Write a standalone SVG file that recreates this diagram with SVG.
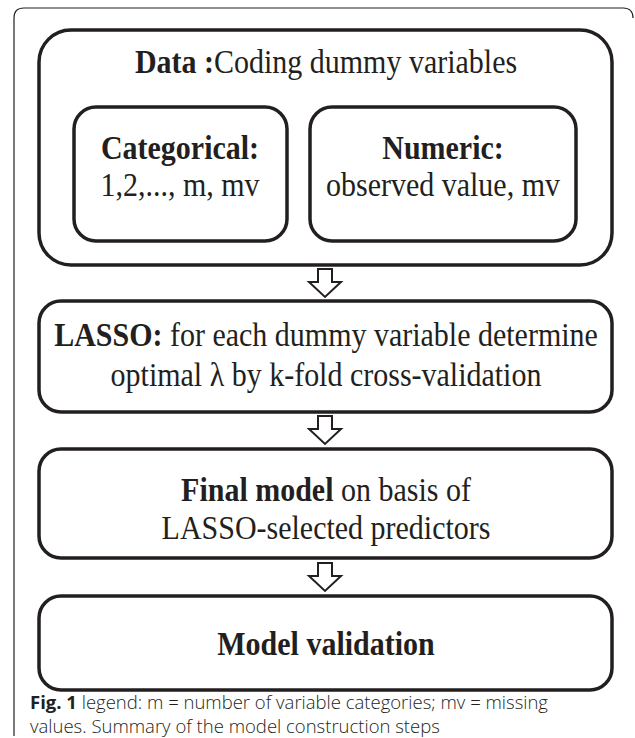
<svg xmlns="http://www.w3.org/2000/svg" width="635" height="738" viewBox="0 0 635 738">
  <style>
    .box { fill: #ffffff; stroke: #231f20; stroke-width: 3.5; }
    .frame { fill: none; stroke: #231f20; stroke-width: 1.2; }
    .arrow { fill: #ffffff; stroke: #231f20; stroke-width: 2; stroke-linejoin: miter; }
    .t { font-family: "Liberation Serif", "Times New Roman", serif; fill: #231f20; text-anchor: middle; font-size: 30px; }
    .b { font-weight: bold; }
    .cap { font-family: "Open Sans", "Noto Sans", sans-serif; fill: #231f20; font-size: 18.5px; font-weight: 300; }
  </style>
  <defs>
    <path id="downArrow" d="M -7 0 H 7 V 13 H 16 L 0 28 L -16 13 H -7 Z"/>
  </defs>
  <rect width="635" height="738" fill="#ffffff"/>

  <!-- caption frame: open on the right -->
  <path class="frame" d="M 14 736 V 18 Q 14 8 24 8 H 623 Q 633 8 633 18"/>

  <g id="data">
    <rect class="box" x="39" y="30" width="573" height="235" rx="32"/>
    <text class="t" transform="translate(326 73) scale(1 1.1)"><tspan class="b">Data :</tspan>Coding dummy variables</text>
  </g>

  <g id="categorical">
    <rect class="box" x="74" y="107" width="213" height="134" rx="22" stroke-width="2.2"/>
    <text class="t b" transform="translate(180 159) scale(1 1.1)">Categorical:</text>
    <text class="t" transform="translate(180 196) scale(1 1.1)">1,2,..., m, mv</text>
  </g>

  <g id="numeric">
    <rect class="box" x="310" y="107" width="266" height="134" rx="22" stroke-width="2.2"/>
    <text class="t b" transform="translate(443 159) scale(1 1.1)">Numeric:</text>
    <text class="t" transform="translate(443 196) scale(1 1.1)">observed value, mv</text>
  </g>

  <g id="lasso">
    <rect class="box" x="39" y="301" width="573" height="111" rx="22"/>
    <text class="t" transform="translate(326 346) scale(1 1.1)"><tspan class="b">LASSO:</tspan> for each dummy variable determine</text>
    <text class="t" transform="translate(326 386) scale(1 1.1)">optimal λ by k-fold cross-validation</text>
  </g>

  <g id="final-model">
    <rect class="box" x="39" y="449" width="573" height="109" rx="22"/>
    <text class="t" transform="translate(326 501) scale(1 1.1)"><tspan class="b">Final model</tspan> on basis of</text>
    <text class="t" transform="translate(326 539) scale(1 1.1)">LASSO-selected predictors</text>
  </g>

  <g id="model-validation">
    <rect class="box" x="39" y="596" width="573" height="94" rx="22"/>
    <text class="t b" transform="translate(326 655) scale(1 1.1)" font-size="31">Model validation</text>
  </g>

  <g id="connectors">
    <use href="#downArrow" class="arrow" x="325" y="269"/>
    <use href="#downArrow" class="arrow" x="325" y="416"/>
    <use href="#downArrow" class="arrow" x="325" y="563"/>
  </g>

  <text class="cap" x="30" y="709"><tspan font-weight="bold">Fig. 1</tspan> legend: m = number of variable categories; mv = missing</text>
  <text class="cap" x="30" y="733">values. Summary of the model construction steps</text>
</svg>
